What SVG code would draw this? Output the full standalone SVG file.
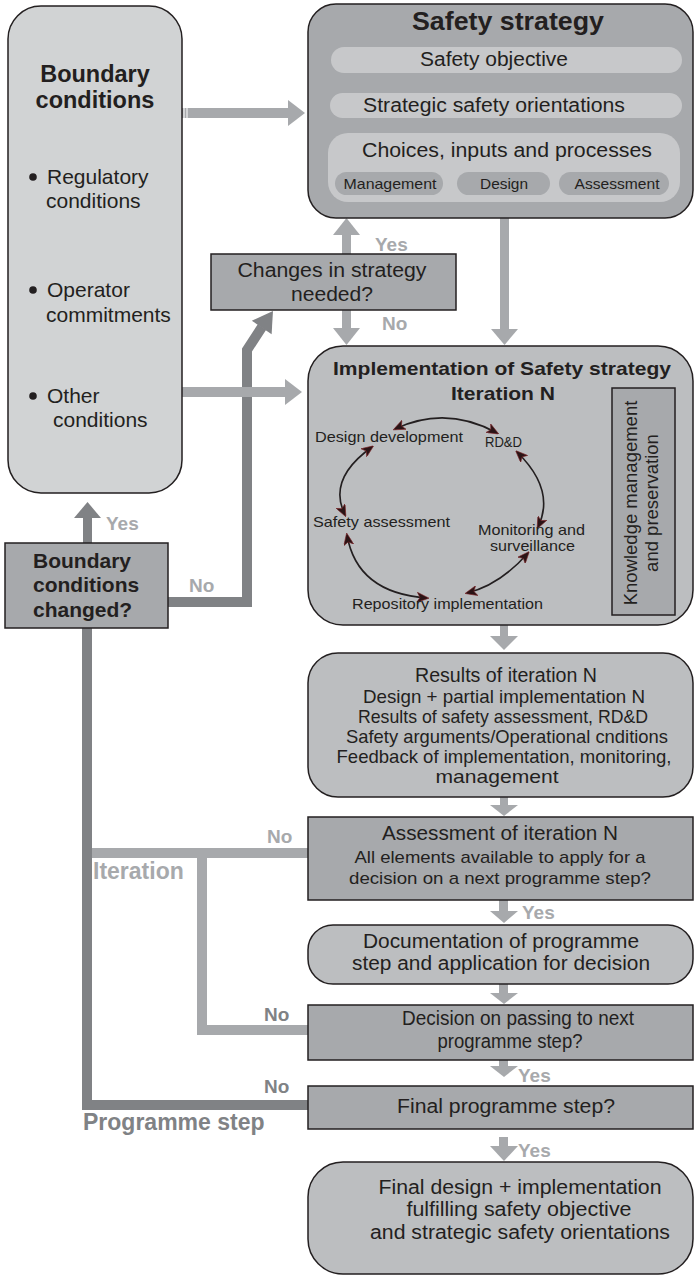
<svg xmlns="http://www.w3.org/2000/svg" width="695" height="1279" viewBox="0 0 695 1279">
<defs>
<style>
text{font-family:"Liberation Sans",Arial,Helvetica,sans-serif;fill:#231f20}
.b{font-weight:bold}
.box{stroke:#231f20;stroke-width:1.5}
.mid{fill:#a7a9ac}
.lt{fill:#bcbec0}
.pill{fill:#c7c8ca}
.c{text-anchor:middle}
.la{fill:#a7a9ac}
.da{fill:#808285}
.lbl{font-weight:bold;font-size:19px}
.ll{fill:none;stroke:#a7a9ac;stroke-width:10}
.dl{fill:none;stroke:#808285;stroke-width:10}
.cyc{fill:none;stroke:#231f20;stroke-width:1.6}
.cl{font-size:14.5px}
.r{font-size:19.5px}
</style>
<marker id="ah" viewBox="0 0 12 10" refX="10" refY="5" markerWidth="12" markerHeight="10" markerUnits="userSpaceOnUse" orient="auto-start-reverse">
<path d="M0,0 L12,5 L0,10 L3,5 Z" fill="#2a1416" stroke="#7a1f22" stroke-width="0.6"/>
</marker>
</defs>

<g id="connectors">
<rect class="la" x="182" y="108" width="106" height="10"/>
<polygon class="la" points="288,100 305,113 288,126"/>
<line x1="184" y1="108" x2="184" y2="118" stroke="#fff" stroke-width="1"/>
<line x1="187" y1="108" x2="187" y2="118" stroke="#fff" stroke-width="1"/>
<rect class="la" x="500" y="218" width="9" height="112"/>
<polygon class="la" points="491,329 504.5,345 518,329"/>
<rect class="la" x="342" y="234" width="9" height="21"/>
<polygon class="la" points="333,235 346.5,218 360,235"/>
<rect class="la" x="342" y="310" width="9" height="19"/>
<polygon class="la" points="333,328 346.5,345 360,328"/>
<polyline class="dl" points="168,602 247,602 247,350 262,327"/>
<polygon class="da" points="273,311 271.6,334.3 251.8,320.7"/>
<rect class="la" x="182" y="387" width="103" height="10"/>
<polygon class="la" points="285,379 302,392 285,405"/>
<rect class="la" x="500" y="625" width="8" height="12"/>
<polygon class="la" points="490,636 504,650 518,636"/>
<rect class="la" x="500" y="797" width="8" height="9"/>
<polygon class="la" points="490,805 504,816 518,805"/>
<rect class="la" x="499" y="900" width="9" height="12"/>
<polygon class="la" points="490,911 504,923 518,911"/>
<rect class="la" x="499" y="984" width="9" height="10"/>
<polygon class="la" points="490,993 504,1004 518,993"/>
<rect class="la" x="499" y="1060" width="9" height="7"/>
<polygon class="la" points="490,1066 504,1077 518,1066"/>
<rect class="la" x="499" y="1137" width="9" height="10"/>
<polygon class="la" points="490,1146 504,1161 518,1146"/>
<rect class="da" x="83" y="517" width="9" height="26"/>
<polygon class="da" points="74,518 87.5,502 101,518"/>
<polyline class="dl" points="87,628 87,1105 308,1105"/>
<polyline class="ll" points="92,853 308,853"/>
<polyline class="ll" points="202,853 202,1030 308,1030"/>
<text class="lbl la" x="375" y="251">Yes</text>
<text class="lbl la" x="382" y="330">No</text>
<text class="lbl la" x="106" y="530">Yes</text>
<text class="lbl la" x="189" y="592">No</text>
<text class="lbl la" x="267" y="843">No</text>
<text class="b la" x="93" y="879" font-size="23">Iteration</text>
<text class="lbl la" x="522" y="919">Yes</text>
<text class="lbl da" x="264" y="1021">No</text>
<text class="lbl la" x="518" y="1082">Yes</text>
<text class="lbl da" x="264" y="1093">No</text>
<text class="b da" x="83" y="1130" font-size="23">Programme step</text>
<text class="lbl la" x="518" y="1157">Yes</text>
</g>

<g id="boundary-conditions">
<rect class="box" x="8" y="6" width="174" height="487" rx="33" fill="#d1d3d4"/>
<text class="b c" x="95" y="82" font-size="23.5">Boundary</text>
<text class="b c" x="95" y="108" font-size="23.5">conditions</text>
<circle cx="33" cy="177" r="3.8" fill="#231f20"/>
<text x="47" y="184" font-size="21">Regulatory</text>
<text x="46" y="208" font-size="21">conditions</text>
<circle cx="33" cy="290" r="3.8" fill="#231f20"/>
<text x="47" y="297" font-size="21">Operator</text>
<text x="46" y="322" font-size="21">commitments</text>
<circle cx="33" cy="396" r="3.8" fill="#231f20"/>
<text x="47" y="403" font-size="21">Other</text>
<text x="53" y="427" font-size="21">conditions</text>
</g>

<g id="boundary-changed">
<rect class="box mid" x="5" y="543" width="163" height="85"/>
<text class="b" x="33" y="568" font-size="21">Boundary</text>
<text class="b" x="33" y="592" font-size="21">conditions</text>
<text class="b" x="33" y="617" font-size="21">changed?</text>
</g>

<g id="safety-strategy">
<rect class="box mid" x="308" y="4" width="385" height="214" rx="28"/>
<text class="b c" x="508" y="30" font-size="25" textLength="192" lengthAdjust="spacingAndGlyphs">Safety strategy</text>
<rect class="pill" x="331" y="47" width="351" height="26" rx="13"/>
<text class="c r" x="494" y="66" textLength="148" lengthAdjust="spacingAndGlyphs">Safety objective</text>
<rect class="pill" x="330" y="93" width="352" height="25" rx="12.5"/>
<text class="c r" x="494" y="112" textLength="262" lengthAdjust="spacingAndGlyphs">Strategic safety orientations</text>
<rect class="pill" x="328" y="133" width="352" height="69" rx="20"/>
<text class="c r" x="507" y="157" textLength="290" lengthAdjust="spacingAndGlyphs">Choices, inputs and processes</text>
<rect class="mid" x="335" y="172" width="108" height="23" rx="11.5"/>
<rect class="mid" x="457" y="172" width="93" height="23" rx="11.5"/>
<rect class="mid" x="559" y="172" width="110" height="23" rx="11.5"/>
<text class="c" x="390" y="189" font-size="15" textLength="93" lengthAdjust="spacingAndGlyphs">Management</text>
<text class="c" x="504" y="189" font-size="15" textLength="48" lengthAdjust="spacingAndGlyphs">Design</text>
<text class="c" x="617" y="189" font-size="15" textLength="85" lengthAdjust="spacingAndGlyphs">Assessment</text>
</g>

<g id="changes-in-strategy">
<rect class="box mid" x="211" y="254" width="245" height="56"/>
<text class="c r" x="332" y="277" textLength="189" lengthAdjust="spacingAndGlyphs">Changes in strategy</text>
<text class="c r" x="332" y="301" textLength="82" lengthAdjust="spacingAndGlyphs">needed?</text>
</g>

<g id="implementation">
<rect class="box lt" x="308" y="346" width="385" height="279" rx="35"/>
<text class="b c" x="502" y="375" font-size="19" textLength="338" lengthAdjust="spacingAndGlyphs">Implementation of Safety strategy</text>
<text class="b c" x="503" y="400" font-size="19" textLength="104" lengthAdjust="spacingAndGlyphs">Iteration N</text>
<rect class="box mid" x="612" y="388" width="63" height="227"/>
<text class="c" transform="translate(637,503) rotate(-90)" font-size="18.5">Knowledge management</text>
<text class="c" transform="translate(658,503) rotate(-90)" font-size="18.5">and preservation</text>
<path class="cyc" d="M395,429 Q446,405 497,433" marker-start="url(#ah)" marker-end="url(#ah)"/>
<path class="cyc" d="M517,452 Q556,490 538,527" marker-start="url(#ah)" marker-end="url(#ah)"/>
<path class="cyc" d="M528,553 Q500,585 467,593" marker-start="url(#ah)" marker-end="url(#ah)"/>
<path class="cyc" d="M427,598 Q357,593 347,535" marker-start="url(#ah)" marker-end="url(#ah)"/>
<path class="cyc" d="M345,515 Q327,479 372,447" marker-start="url(#ah)" marker-end="url(#ah)"/>
<text class="cl" x="315" y="442" textLength="148" lengthAdjust="spacingAndGlyphs">Design development</text>
<text class="cl" x="485" y="447" textLength="37" lengthAdjust="spacingAndGlyphs">RD&amp;D</text>
<text class="cl" x="313" y="527" textLength="137" lengthAdjust="spacingAndGlyphs">Safety assessment</text>
<text class="cl" x="478" y="535" textLength="107" lengthAdjust="spacingAndGlyphs">Monitoring and</text>
<text class="cl" x="490" y="551" textLength="85" lengthAdjust="spacingAndGlyphs">surveillance</text>
<text class="cl" x="352" y="609" textLength="191" lengthAdjust="spacingAndGlyphs">Repository implementation</text>
</g>

<g id="results">
<rect class="box lt" x="308" y="653" width="385" height="144" rx="30"/>
<text class="c" x="506" y="682" font-size="19.5" textLength="182" lengthAdjust="spacingAndGlyphs">Results of iteration N</text>
<text class="c" x="504" y="703" font-size="19" textLength="282" lengthAdjust="spacingAndGlyphs">Design + partial implementation N</text>
<text class="c" x="503" y="723" font-size="19" textLength="290" lengthAdjust="spacingAndGlyphs">Results of safety assessment, RD&amp;D</text>
<text class="c" x="507" y="743" font-size="19" textLength="322" lengthAdjust="spacingAndGlyphs">Safety arguments/Operational cnditions</text>
<text class="c" x="504" y="763" font-size="19" textLength="335" lengthAdjust="spacingAndGlyphs">Feedback of implementation, monitoring,</text>
<text class="c" x="497" y="783" font-size="19" textLength="123" lengthAdjust="spacingAndGlyphs">management</text>
</g>

<g id="assessment">
<rect class="box mid" x="308" y="817" width="385" height="83"/>
<text class="c" x="500" y="840" font-size="19.5" textLength="236" lengthAdjust="spacingAndGlyphs">Assessment of iteration N</text>
<text class="c" x="500" y="863" font-size="17" textLength="291" lengthAdjust="spacingAndGlyphs">All elements available to apply for a</text>
<text class="c" x="500" y="884" font-size="17" textLength="302" lengthAdjust="spacingAndGlyphs">decision on a next programme step?</text>
</g>

<g id="documentation">
<rect class="box lt" x="308" y="925" width="385" height="59" rx="25"/>
<text class="c r" x="501" y="948" textLength="276" lengthAdjust="spacingAndGlyphs">Documentation of programme</text>
<text class="c r" x="501" y="970" textLength="298" lengthAdjust="spacingAndGlyphs">step and application for decision</text>
</g>

<g id="decision">
<rect class="box mid" x="308" y="1005" width="385" height="55"/>
<text class="c r" x="518" y="1025" textLength="232" lengthAdjust="spacingAndGlyphs">Decision on passing to next</text>
<text class="c r" x="510" y="1048" textLength="145" lengthAdjust="spacingAndGlyphs">programme step?</text>
</g>

<g id="final-step">
<rect class="box mid" x="308" y="1086" width="385" height="43"/>
<text class="c r" x="506" y="1113" textLength="218" lengthAdjust="spacingAndGlyphs">Final programme step?</text>
</g>

<g id="final-design">
<rect class="box lt" x="308" y="1162" width="385" height="112" rx="35"/>
<text class="c r" x="520" y="1194" textLength="283" lengthAdjust="spacingAndGlyphs">Final design + implementation</text>
<text class="c r" x="519" y="1216" textLength="225" lengthAdjust="spacingAndGlyphs">fulfilling safety objective</text>
<text class="c r" x="520" y="1239" textLength="300" lengthAdjust="spacingAndGlyphs">and strategic safety orientations</text>
</g>
</svg>
